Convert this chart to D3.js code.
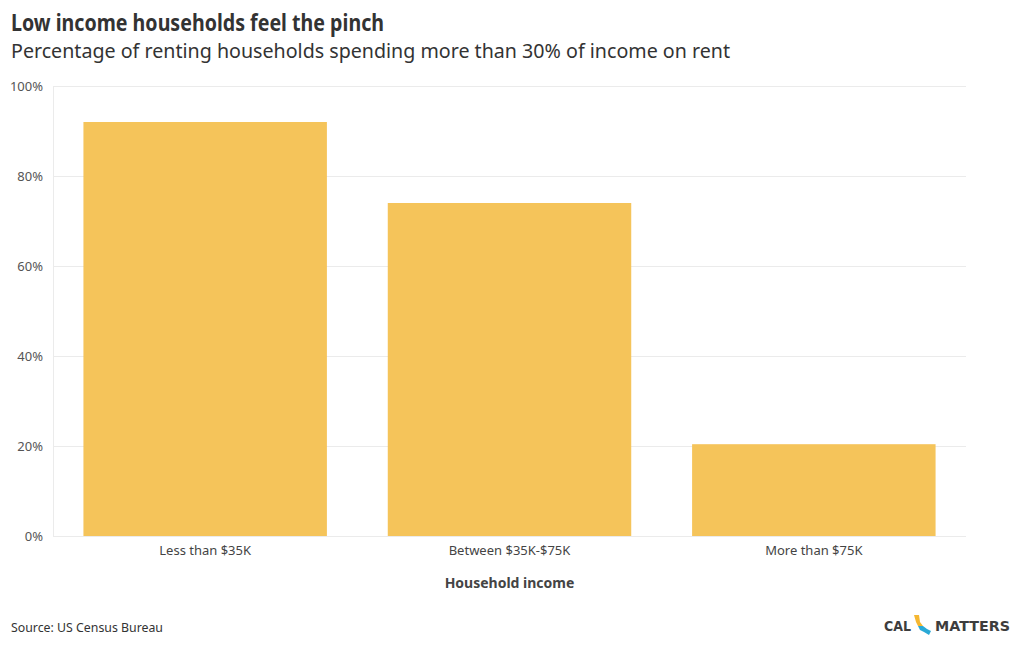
<!DOCTYPE html>
<html>
<head>
<meta charset="utf-8">
<script src="https://cdn.jsdelivr.net/npm/d3@7"></script>
<style>
  html, body { margin: 0; padding: 0; background: #fff; }
  svg { display: block; }
  text { font-family: "Source Sans Pro", "Noto Sans", "Open Sans", sans-serif; }
</style>
</head>
<body>
<svg id="chart" width="1020" height="650"></svg>
<script>
const categories = ["Less than $35K", "Between $35K-$75K", "More than $75K"];
const values = [92, 74, 20.4];
const yTicks = [0, 20, 40, 60, 80, 100];

const svg = d3.select("#chart");
const margin = { left: 53, right: 54, top: 86, bottom: 114 };
const W = 1020, H = 650;

const x = d3.scaleBand().domain(categories)
  .range([margin.left, W - margin.right])
  .paddingInner(0.2).paddingOuter(0.1);
const y = d3.scaleLinear().domain([0, 100]).range([H - margin.bottom, margin.top]);

// Title
svg.append("text").attr("x", 11).attr("y", 31)
  .attr("font-size", 23).attr("font-weight", 700).attr("fill", "#333")
  .attr("textLength", 373).attr("lengthAdjust", "spacingAndGlyphs")
  .text("Low income households feel the pinch");
svg.append("text").attr("x", 11).attr("y", 58)
  .attr("font-size", 20).attr("fill", "#333")
  .attr("textLength", 719).attr("lengthAdjust", "spacingAndGlyphs")
  .text("Percentage of renting households spending more than 30% of income on rent");

// Gridlines
const grid = svg.append("g");
grid.selectAll("line").data(yTicks).enter().append("line")
  .attr("x1", margin.left).attr("x2", W - margin.right)
  .attr("y1", d => y(d) + 0.5).attr("y2", d => y(d) + 0.5)
  .attr("stroke", "#ebebeb").attr("stroke-width", 1);
grid.append("line")
  .attr("x1", margin.left + 0.5).attr("x2", margin.left + 0.5)
  .attr("y1", y(100)).attr("y2", y(0))
  .attr("stroke", "#ebebeb");

// Y axis
const yAxis = d3.axisLeft(y).tickValues(yTicks).tickFormat(d => d + "%").tickSize(0).tickPadding(10);
const ya = svg.append("g").attr("transform", `translate(${margin.left},0)`).call(yAxis);
ya.select(".domain").remove();
ya.selectAll("text").attr("font-size", 13).attr("fill", "#555")
  .style("font-family", '"Source Sans Pro", "Noto Sans", sans-serif');

// Bars
svg.append("g").selectAll("rect").data(categories).enter().append("rect")
  .attr("x", d => x(d)).attr("width", x.bandwidth())
  .attr("y", (d, i) => y(values[i])).attr("height", (d, i) => y(0) - y(values[i]))
  .attr("fill", "#f5c45a");

// X axis
const xAxis = d3.axisBottom(x).tickSize(0).tickPadding(10);
const xa = svg.append("g").attr("transform", `translate(0,${y(0)})`).call(xAxis);
xa.select(".domain").remove();
xa.selectAll("text").attr("font-size", 13).attr("fill", "#444")
  .style("font-family", '"Source Sans Pro", "Noto Sans", sans-serif');

// Axis title
svg.append("text").attr("x", (margin.left + W - margin.right) / 2).attr("y", 588)
  .attr("text-anchor", "middle").attr("font-size", 14).attr("font-weight", 700).attr("fill", "#444")
  .text("Household income");

// Source
svg.append("text").attr("x", 11).attr("y", 632)
  .attr("font-size", 13).attr("fill", "#333")
  .attr("textLength", 152).attr("lengthAdjust", "spacingAndGlyphs")
  .text("Source: US Census Bureau");

// Logo
const logo = svg.append("g");
logo.append("text").attr("x", 884).attr("y", 631)
  .attr("font-size", 14).attr("font-weight", 700).attr("fill", "#3d3d3d")
  .style("font-family", '"DejaVu Sans", sans-serif')
  .attr("textLength", 27).attr("lengthAdjust", "spacingAndGlyphs")
  .text("CAL");
logo.append("text").attr("x", 935).attr("y", 631)
  .attr("font-size", 14).attr("font-weight", 700).attr("fill", "#3d3d3d")
  .style("font-family", '"DejaVu Sans", sans-serif')
  .attr("textLength", 75).attr("lengthAdjust", "spacingAndGlyphs")
  .text("MATTERS");
logo.append("path")
  .attr("d", "M914,615 L919,615 L920,622 L923,626 L918,626 L916,622 Z")
  .attr("fill", "#f5b731");
logo.append("path")
  .attr("d", "M918,626 L923,626 L927,629 L931,631 L929,635 L924,632 L920,630 Z")
  .attr("fill", "#29a9d6");
</script>
</body>
</html>
